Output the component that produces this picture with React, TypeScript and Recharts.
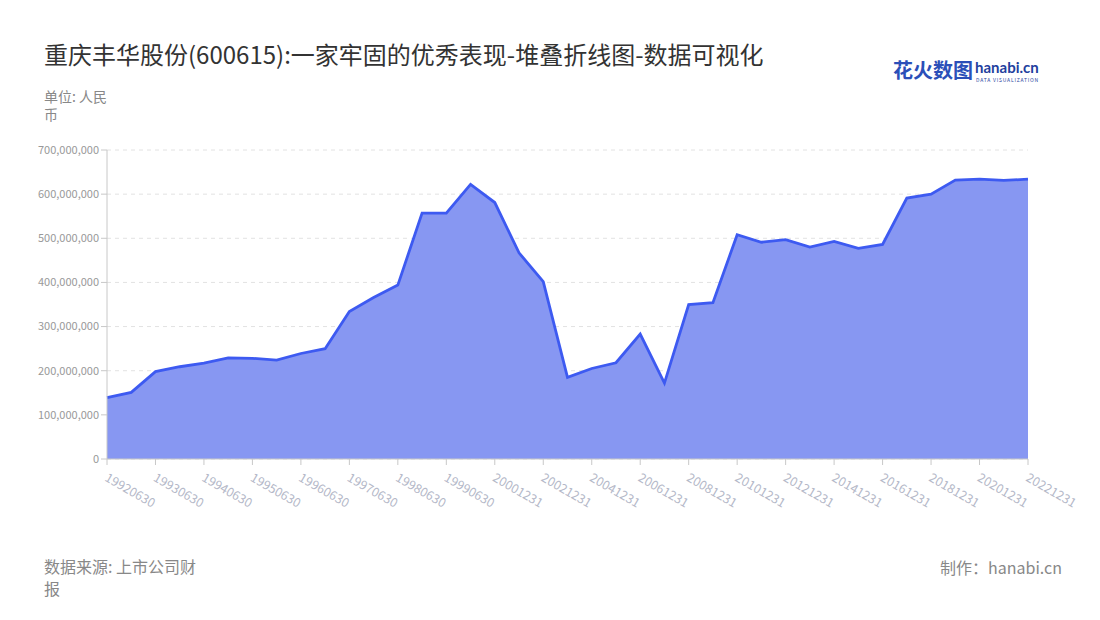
import { AreaChart, Area, XAxis, YAxis, CartesianGrid } from 'recharts';

const dates = [
  '19920630', '19921231', '19930630', '19931231', '19940630', '19941231',
  '19950630', '19951231', '19960630', '19961231', '19970630', '19971231',
  '19980630', '19981231', '19990630', '19991231', '20001231', '20011231',
  '20021231', '20031231', '20041231', '20051231', '20061231', '20071231',
  '20081231', '20091231', '20101231', '20111231', '20121231', '20131231',
  '20141231', '20151231', '20161231', '20171231', '20181231', '20191231',
  '20201231', '20211231', '20221231',
];

// millions of yuan
const valuesM = [
  139, 151, 198, 209, 217, 229, 228, 224, 239, 250, 334, 366,
  394, 557, 557, 622, 581, 467, 402, 185, 205, 218, 283, 172,
  350, 354, 508, 491, 497, 480, 493, 477, 486, 591, 600, 632,
  634, 631, 634,
];

const yTicks = [0, 100000000, 200000000, 300000000, 400000000, 500000000, 600000000, 700000000];

const data = dates.map((d, i) => ({ date: d, value: valuesM[i] * 1000000 }));

const FONT = '"Noto Sans CJK SC", "Noto Sans", sans-serif';

function XTick(props: any) {
  const { x, y, payload } = props;
  return (
    <g transform={`translate(${x},${y})`}>
      <text x={4} y={13} transform="rotate(30)" textAnchor="start" fill="#b4b8c8" fontSize={12.5} fontFamily={FONT}>
        {payload.value}
      </text>
    </g>
  );
}

export default function App() {
  return (
    <div style={{ position: 'absolute', left: 0, top: 0, width: 1100, height: 620, background: '#fff', fontFamily: FONT }}>
      <div style={{ position: 'absolute', left: 44, top: 36, fontSize: 24, color: '#333', whiteSpace: 'nowrap' }}>
        重庆丰华股份(600615):一家牢固的优秀表现-堆叠折线图-数据可视化
      </div>
      <div style={{ position: 'absolute', left: 893, top: 58, fontSize: 20, fontWeight: 700, color: '#2b4fb8', lineHeight: '24px' }}>
        花火数图
      </div>
      <div style={{ position: 'absolute', left: 975, top: 60, fontSize: 15, fontWeight: 700, color: '#1f3f9e', fontFamily: 'Lato, sans-serif', lineHeight: '15px' }}>
        hanabi.cn
      </div>
      <div style={{ position: 'absolute', left: 976, top: 77, fontSize: 5, color: '#1f3f9e', letterSpacing: 0.8, lineHeight: '5px', whiteSpace: 'nowrap' }}>
        DATA VISUALIZATION
      </div>
      <div style={{ position: 'absolute', left: 44, top: 87, fontSize: 14, color: '#888', lineHeight: '18px' }}>
        <div>单位: 人民</div>
        <div>币</div>
      </div>
      <div style={{ position: 'absolute', left: 0, top: 0 }}>
        <AreaChart width={1100} height={620} data={data} margin={{ top: 150, right: 72, bottom: 0, left: 0 }}>
          <CartesianGrid vertical={false} stroke="#e2e2e2" strokeDasharray="4 4" />
          <XAxis
            dataKey="date"
            interval={1}
            height={161}
            tick={<XTick />}
            axisLine={{ stroke: '#c8c8c8' }}
            tickLine={{ stroke: '#c8c8c8' }}
          />
          <YAxis
            width={107}
            domain={[0, 700000000]}
            ticks={yTicks}
            tickFormatter={(v: number) => v.toLocaleString('en-US')}
            tick={{ fontSize: 11, fill: '#999', fontFamily: FONT }}
            axisLine={{ stroke: '#c8c8c8' }}
            tickLine={{ stroke: '#c8c8c8' }}
          />
          <Area
            type="linear"
            dataKey="value"
            stroke="#3d5af1"
            strokeWidth={2.8}
            fill="#8797f2"
            fillOpacity={1}
            dot={false}
            activeDot={false}
            isAnimationActive={false}
          />
        </AreaChart>
      </div>
      <div style={{ position: 'absolute', left: 44, top: 555, fontSize: 16, color: '#888', lineHeight: '22px' }}>
        <div>数据来源: 上市公司财</div>
        <div>报</div>
      </div>
      <div style={{ position: 'absolute', right: 38, top: 555, fontSize: 16, color: '#888', whiteSpace: 'nowrap' }}>
        制作：hanabi.cn
      </div>
    </div>
  );
}
